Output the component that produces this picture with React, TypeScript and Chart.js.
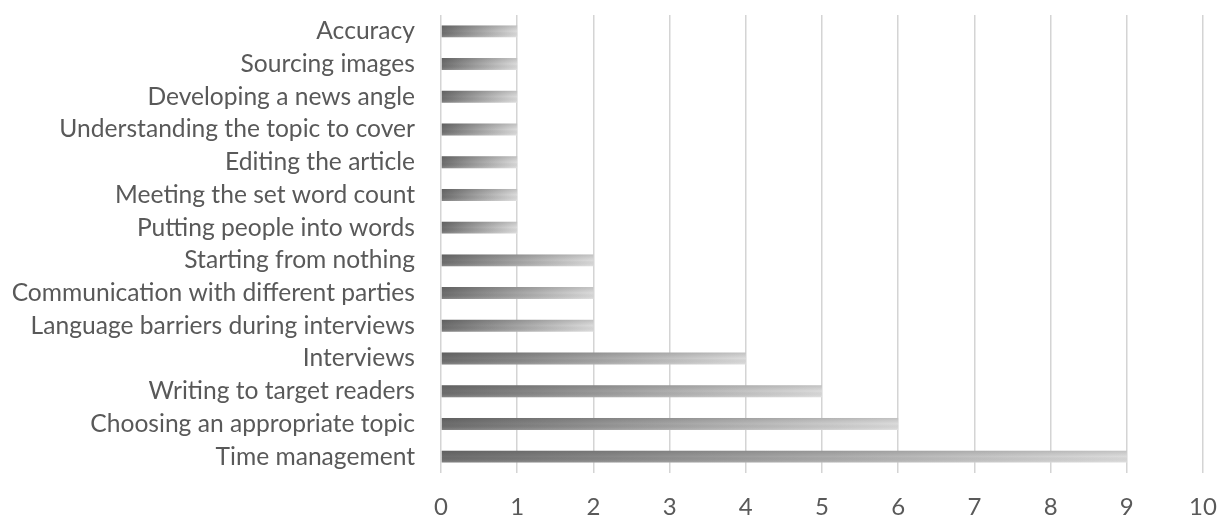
import React, { useEffect, useRef } from "react";
import { Chart, registerables } from "chart.js";

Chart.register(...registerables);

const categories = [
  "Accuracy",
  "Sourcing images",
  "Developing a news angle",
  "Understanding the topic to cover",
  "Editing the article",
  "Meeting the set word count",
  "Putting people into words",
  "Starting from nothing",
  "Communication with different parties",
  "Language barriers during interviews",
  "Interviews",
  "Writing to target readers",
  "Choosing an appropriate topic",
  "Time management",
];

const counts = [1, 1, 1, 1, 1, 1, 1, 2, 2, 2, 4, 5, 6, 9];

const xTicks = [0, 1, 2, 3, 4, 5, 6, 7, 8, 9, 10];

const FONT = "Lato, 'Open Sans', sans-serif";
const TEXT = "#595959";

// Horizontal grey ramp across each bar, from dark at the base to light at the tip
function barFill(ctx: any) {
  const chart = ctx.chart;
  const area = chart.chartArea;
  if (!area) return "#999";
  const xs = chart.scales.x;
  const v = ctx.raw ?? 0;
  const x0 = xs.getPixelForValue(0);
  const x1 = xs.getPixelForValue(v);
  const g = chart.ctx.createLinearGradient(x0, 0, Math.max(x1, x0 + 1), 0);
  g.addColorStop(0, "#6c6c6c");
  g.addColorStop(0.5, "#a4a4a4");
  g.addColorStop(1, "#dcdcdc");
  return g;
}

// Soft top-to-bottom shading over each bar for a rounded look
const barShade = {
  id: "barShade",
  afterDatasetsDraw(chart: any) {
    const meta = chart.getDatasetMeta(0);
    const c = chart.ctx;
    c.save();
    meta.data.forEach((bar: any) => {
      const p = bar.getProps(["x", "y", "base", "height"], true);
      const top = p.y - p.height / 2;
      const g = c.createLinearGradient(0, top, 0, top + p.height);
      g.addColorStop(0, "rgba(0,0,0,0.12)");
      g.addColorStop(0.5, "rgba(0,0,0,0)");
      g.addColorStop(1, "rgba(255,255,255,0.18)");
      c.fillStyle = g;
      c.fillRect(p.base, top, p.x - p.base, p.height);
    });
    c.restore();
  },
};

export default function App() {
  const ref = useRef<HTMLCanvasElement | null>(null);

  useEffect(() => {
    if (!ref.current) return;
    const chart = new Chart(ref.current, {
      type: "bar",
      data: {
        labels: categories,
        datasets: [
          {
            data: counts,
            backgroundColor: barFill,
            borderWidth: 0,
            barPercentage: 0.7,
            categoryPercentage: 0.52,
          },
        ],
      },
      options: {
        indexAxis: "y",
        animation: false,
        responsive: false,
        maintainAspectRatio: false,
        layout: { padding: { top: 15, right: 0, bottom: 0, left: 0 } },
        plugins: {
          legend: { display: false },
          tooltip: { enabled: false },
        },
        scales: {
          x: {
            min: 0,
            max: 10,
            afterBuildTicks: (s: any) => {
              s.ticks = xTicks.map((v) => ({ value: v }));
            },
            grid: { color: "#d4d4d4", lineWidth: 1.5, drawTicks: false },
            border: { display: false },
            ticks: {
              padding: 20,
              color: TEXT,
              font: { family: FONT, size: 24 },
            },
            afterFit: (s: any) => {
              s.height = 44;
              s.paddingLeft = 0;
              s.paddingRight = 17;
            },
          },
          y: {
            grid: { display: false, drawTicks: false },
            border: { display: false },
            ticks: {
              padding: 26,
              color: TEXT,
              font: { family: FONT, size: 24.6 },
            },
            afterFit: (s: any) => {
              s.width = 441;
              s.paddingTop = 0;
              s.paddingBottom = 0;
            },
          },
        },
      },
      plugins: [barShade],
    });
    return () => chart.destroy();
  }, []);

  return (
    <div style={{ position: "fixed", left: 0, top: 0, width: 1220, height: 517, background: "#fff" }}>
      <canvas ref={ref} width={1220} height={517} />
    </div>
  );
}
